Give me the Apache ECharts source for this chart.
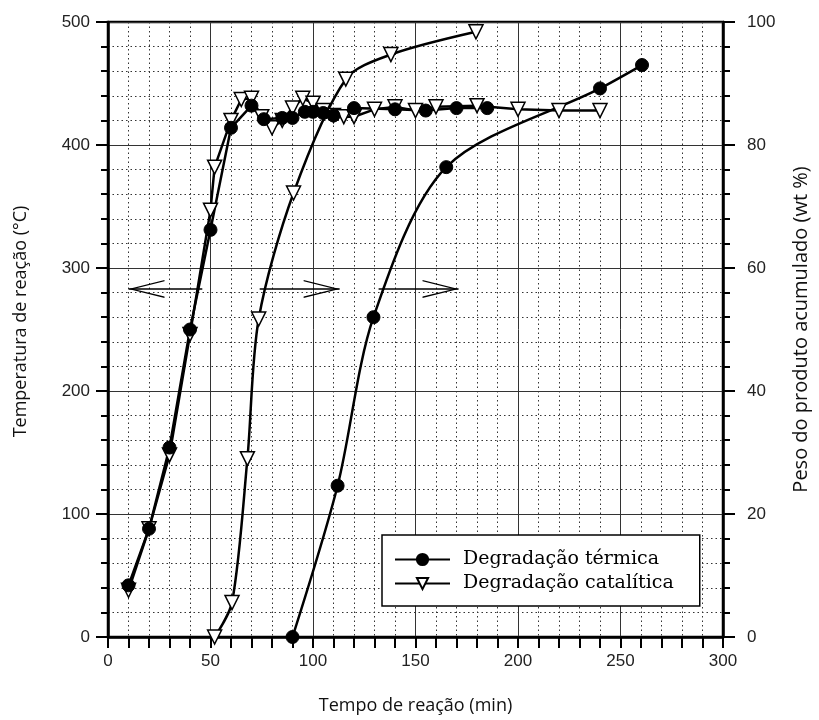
<!DOCTYPE html>
<html lang="pt">
<head>
<meta charset="UTF-8">
<title>Degradação térmica e catalítica</title>
<script src="https://cdn.jsdelivr.net/npm/echarts@6/dist/echarts.min.js"></script>
<style>
  html, body { margin: 0; padding: 0; background: #fff; }
  #main { width: 819px; height: 720px; }
</style>
</head>
<body>
<div id="main"></div>
<script>
// temperatura (eixo esquerdo, °C)
var tempTermX = [10, 20, 30, 40, 50, 60, 70, 76, 85, 90, 96, 100, 105, 110, 120, 140, 155, 170, 185];
var tempTermY = [42, 88, 154, 250, 331, 414, 432, 421, 422, 422, 427, 427, 426, 424, 430, 429, 428, 430, 430];

var tempCatX = [10, 20, 30, 40, 50, 52, 60, 65, 70, 75, 80, 85, 90, 95, 100, 105, 110, 115, 120, 130, 140, 150, 160, 180, 200, 220, 240];
var tempCatY = [38, 88, 148, 246, 347, 382, 420, 437, 438, 423, 414, 420, 430, 438, 434, 428, 424, 423, 423, 429, 431, 428, 431, 432, 429, 428, 428];

// produto acumulado (eixo direito, wt %)
var acumTermX = [90, 112, 129.5, 165, 240, 260.5];
var acumTermY = [0, 24.6, 52, 76.4, 89.2, 93];

var acumCatX = [52, 60.5, 68, 73.5, 90.5, 116, 138, 179.5];
var acumCatY = [0, 5.6, 29, 51.7, 72.2, 90.7, 94.7, 98.4];

// setas: [x inicio, x fim, temperatura]
var setas = [[46, 10, 283], [74, 113, 283], [132, 171, 283]];

function pares(xs, ys) {
  return xs.map(function (x, i) { return [x, ys[i]]; });
}

var nomeTerm = 'Degradação térmica';
var nomeCat = 'Degradação catalítica';
var seta = 'path://M10,0 L20,36 L18.4,36 L10,5 L1.6,36 L0,36 Z';

var tickFont = { fontFamily: 'Liberation Sans', fontSize: 17, color: '#222' };

var chart = echarts.init(document.getElementById('main'));

var simbTerm = { symbol: 'circle', symbolSize: 13, itemStyle: { color: '#000', borderColor: '#000', borderWidth: 1 } };
var simbCat = { symbol: 'triangle', symbolSize: 14, symbolRotate: 180, itemStyle: { color: '#fff', borderColor: '#000', borderWidth: 1.5 } };

function serie(nome, dados, eixo, simb, suave, extra) {
  var s = {
    name: nome,
    type: 'line',
    yAxisIndex: eixo,
    data: dados,
    symbol: simb.symbol,
    symbolSize: simb.symbolSize,
    symbolRotate: simb.symbolRotate || 0,
    itemStyle: simb.itemStyle,
    lineStyle: { color: '#000', width: 2.5 },
    smooth: suave,
    showAllSymbol: true,
    animation: false
  };
  return Object.assign(s, extra || {});
}

chart.setOption({
  animation: false,
  grid: { left: 108, right: 96, top: 22, bottom: 83, show: true, borderColor: '#000', borderWidth: 2.5 },
  legend: {
    data: [nomeTerm, nomeCat],
    orient: 'vertical',
    left: 382,
    top: 535,
    itemWidth: 55,
    itemHeight: 14,
    itemGap: 5,
    padding: [15, 26, 13, 12],
    backgroundColor: '#fff',
    borderColor: '#000',
    borderWidth: 1.5,
    textStyle: { fontFamily: 'DejaVu Serif', fontSize: 19, color: '#000', padding: [0, 0, 0, 8] }
  },
  xAxis: {
    type: 'value',
    min: 0, max: 300, interval: 50,
    name: 'Tempo de reação (min)',
    nameLocation: 'middle',
    nameGap: 60,
    nameTextStyle: { fontFamily: 'Open Sans', fontSize: 18, color: '#111' },
    axisLine: { onZero: false, lineStyle: { color: '#000', width: 2.5 } },
    axisTick: { length: 11, lineStyle: { color: '#000', width: 2 } },
    minorTick: { show: true, splitNumber: 5, length: 11, lineStyle: { color: '#000', width: 2 } },
    axisLabel: Object.assign({ margin: 16 }, tickFont),
    splitLine: { show: true, lineStyle: { color: '#333', width: 1 } },
    minorSplitLine: { show: true, lineStyle: { color: '#333', width: 1, type: [1.5, 3] } }
  },
  yAxis: [{
    type: 'value',
    min: 0, max: 500, interval: 100,
    name: 'Temperatura de reação (°C)',
    nameLocation: 'middle',
    nameGap: 78,
    nameTextStyle: { fontFamily: 'Open Sans', fontSize: 18, color: '#111', padding: [0, 0, 0, 16] },
    axisLine: { show: true, lineStyle: { color: '#000', width: 2.5 } },
    axisTick: { show: true, length: 12, lineStyle: { color: '#000', width: 2 } },
    minorTick: { show: true, splitNumber: 5, length: 7, lineStyle: { color: '#000', width: 2 } },
    axisLabel: Object.assign({ margin: 18 }, tickFont),
    splitLine: { show: true, lineStyle: { color: '#333', width: 1 } },
    minorSplitLine: { show: true, lineStyle: { color: '#333', width: 1, type: [1.5, 3] } }
  }, {
    type: 'value',
    position: 'right',
    min: 0, max: 100, interval: 20,
    name: 'Peso do produto acumulado (wt %)',
    nameLocation: 'middle',
    nameGap: 68,
    nameTextStyle: { fontFamily: 'Open Sans', fontSize: 20, color: '#111' },
    axisLine: { show: true, lineStyle: { color: '#000', width: 2.5 } },
    axisTick: { show: true, length: 12, lineStyle: { color: '#000', width: 2 } },
    minorTick: { show: true, splitNumber: 5, length: 7, lineStyle: { color: '#000', width: 2 } },
    axisLabel: Object.assign({ margin: 24 }, tickFont),
    splitLine: { show: false },
    minorSplitLine: { show: false }
  }],
  series: [
    serie(nomeCat, pares(tempCatX, tempCatY), 0, simbCat, false, {
      markLine: {
        silent: true,
        symbol: ['none', seta],
        symbolSize: [18, 36],
        symbolOffset: [0, [0, 18]],
        label: { show: false },
        lineStyle: { color: '#000', width: 1.5, type: 'solid' },
        data: setas.map(function (s) {
          return [{ coord: [s[0], s[2]] }, { coord: [s[1], s[2]] }];
        })
      }
    }),
    serie(nomeTerm, pares(tempTermX, tempTermY), 0, simbTerm, false),
    serie(nomeCat, pares(acumCatX, acumCatY), 1, simbCat, 0.3),
    serie(nomeTerm, pares(acumTermX, acumTermY), 1, simbTerm, 0.3)
  ]
});
</script>
</body>
</html>
